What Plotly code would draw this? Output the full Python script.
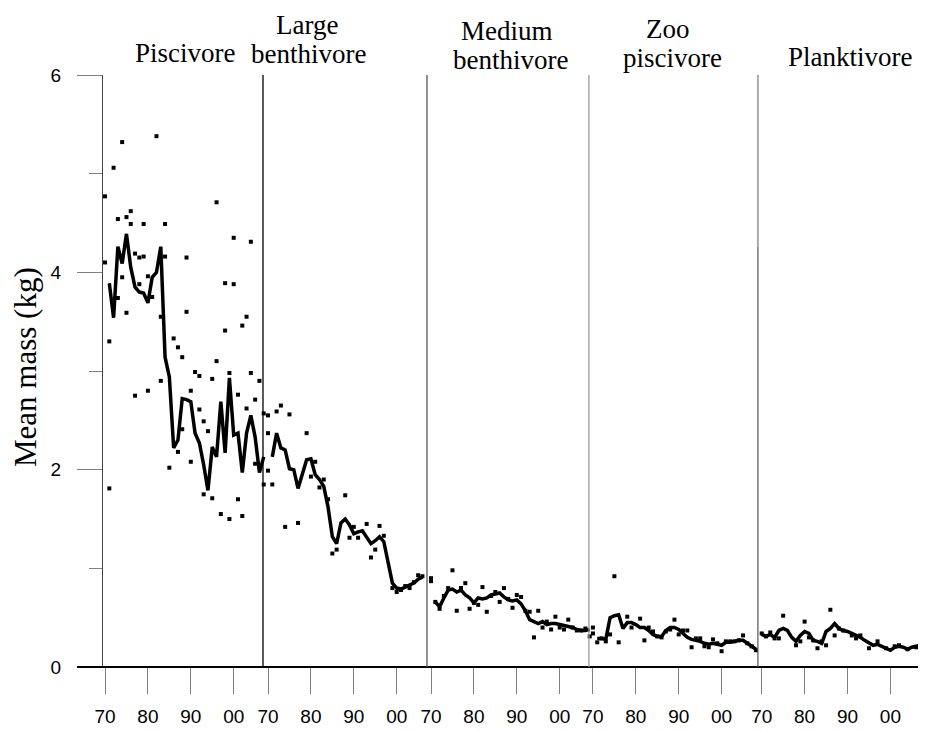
import plotly.graph_objects as go

# ---------------- data ----------------
panel_names = ["Piscivore", "Large benthivore", "Medium benthivore", "Zoo piscivore", "Planktivore"]
tick_years = [1970, 1980, 1990, 2000]
tick_labels = ["70", "80", "90", "00"]

pisc_pt_year = [1970, 1970, 1971, 1971, 1972, 1973, 1973, 1974, 1974, 1975, 1975, 1976, 1976, 1977, 1977,
                1978, 1978, 1979, 1979, 1980, 1980, 1981, 1982, 1983, 1983, 1984, 1984, 1985, 1986, 1987,
                1987, 1988, 1988, 1989, 1989, 1990, 1990, 1991, 1992, 1992, 1993, 1993, 1994, 1995, 1995,
                1996, 1996, 1997, 1998, 1998, 1999, 1999, 2000, 2000, 2001, 2001, 2002, 2002, 2003, 2003,
                2004, 2004, 2005, 2005, 2006, 2007, 2007]
pisc_pt_mass = [4.77, 4.10, 3.30, 1.81, 5.06, 4.54, 3.74, 5.32, 3.95, 4.56, 3.59, 4.62, 4.49, 4.19, 2.75,
                4.15, 3.88, 4.49, 4.16, 3.96, 2.80, 3.75, 5.38, 3.55, 2.90, 4.49, 4.16, 2.02, 3.33, 3.24,
                2.18, 3.14, 2.41, 4.15, 3.60, 2.80, 2.08, 2.99, 2.95, 2.61, 2.49, 1.75, 2.39, 2.92, 1.71,
                4.71, 3.10, 1.55, 3.89, 3.41, 2.98, 1.50, 4.35, 3.88, 2.76, 1.70, 3.46, 1.53, 3.55, 2.62,
                4.31, 2.98, 2.71, 2.06, 2.90, 2.57, 1.85]
pisc_line_year = list(range(1971, 2008))
pisc_line_mass = [3.89, 3.54, 4.26, 4.09, 4.39, 4.05, 3.85, 3.80, 3.79, 3.69, 3.95, 4.00, 4.26, 3.14, 2.94,
                  2.22, 2.30, 2.72, 2.71, 2.69, 2.37, 2.27, 2.05, 1.79, 2.23, 2.13, 2.69, 2.17, 2.93, 2.35,
                  2.37, 1.97, 2.37, 2.55, 2.33, 1.97, 2.13]

lben_pt_year = [1970, 1970, 1970, 1971, 1972, 1973, 1974, 1975, 1977, 1979, 1980, 1981, 1982, 1983, 1984,
                1985, 1986, 1988, 1989, 1990, 1991, 1993, 1994, 1995, 1996, 1997, 1999, 2000, 2001, 2002,
                2003, 2004, 2005, 2006]
lben_pt_mass = [2.55, 2.37, 1.99, 1.85, 2.59, 2.65, 1.42, 2.56, 1.46, 2.37, 1.93, 2.08, 1.82, 1.90, 1.70,
                1.15, 1.19, 1.74, 1.31, 1.42, 1.31, 1.45, 1.11, 1.19, 1.43, 1.33, 0.80, 0.76, 0.78, 0.82,
                0.80, 0.86, 0.93, 0.92]
lben_line_year = list(range(1971, 2007))
lben_line_mass = [2.13, 2.37, 2.22, 2.20, 2.01, 2.00, 1.81, 1.95, 2.10, 2.11, 1.95, 1.90, 1.83, 1.62, 1.32,
                  1.25, 1.46, 1.50, 1.44, 1.35, 1.37, 1.38, 1.32, 1.25, 1.28, 1.32, 1.27, 1.05, 0.85, 0.80,
                  0.79, 0.81, 0.83, 0.85, 0.89, 0.91]

mben_pt_year = [1970, 1970, 1971, 1972, 1973, 1974, 1975, 1976, 1977, 1978, 1979, 1980, 1981, 1982, 1983,
                1984, 1985, 1986, 1987, 1988, 1989, 1990, 1991, 1992, 1993, 1994, 1995, 1996, 1997, 1998,
                1999, 2000, 2001, 2002, 2003, 2004, 2005, 2006, 2007]
mben_pt_mass = [0.90, 0.87, 0.66, 0.59, 0.72, 0.80, 0.98, 0.57, 0.80, 0.85, 0.59, 0.65, 0.63, 0.81, 0.56,
                0.72, 0.76, 0.66, 0.80, 0.69, 0.60, 0.73, 0.71, 0.57, 0.56, 0.30, 0.57, 0.40, 0.46, 0.38,
                0.51, 0.40, 0.38, 0.48, 0.40, 0.37, 0.37, 0.39, 0.31]
mben_line_year = list(range(1971, 2008))
mben_line_mass = [0.66, 0.61, 0.70, 0.78, 0.79, 0.76, 0.78, 0.73, 0.70, 0.65, 0.70, 0.69, 0.70, 0.73, 0.74,
                  0.75, 0.71, 0.68, 0.67, 0.68, 0.64, 0.57, 0.48, 0.46, 0.44, 0.46, 0.43, 0.44, 0.44, 0.43,
                  0.42, 0.41, 0.40, 0.38, 0.37, 0.37, 0.38]

zoo_pt_year = [1970, 1970, 1971, 1972, 1973, 1974, 1975, 1976, 1978, 1979, 1981, 1982, 1983, 1984, 1985,
               1986, 1987, 1988, 1989, 1990, 1991, 1992, 1993, 1994, 1995, 1996, 1997, 1998, 1999, 2000,
               2001, 2002, 2003, 2004, 2005, 2006, 2007, 2008]
zoo_pt_mass = [0.40, 0.34, 0.25, 0.29, 0.26, 0.33, 0.92, 0.25, 0.51, 0.40, 0.49, 0.27, 0.40, 0.36, 0.31,
               0.30, 0.36, 0.38, 0.48, 0.33, 0.37, 0.37, 0.20, 0.29, 0.29, 0.21, 0.20, 0.28, 0.24, 0.16,
               0.26, 0.26, 0.26, 0.27, 0.32, 0.24, 0.21, 0.17]
zoo_line_year = list(range(1971, 2009))
zoo_line_mass = [0.29, 0.29, 0.28, 0.50, 0.52, 0.53, 0.39, 0.45, 0.45, 0.43, 0.40, 0.40, 0.37, 0.33, 0.31,
                 0.31, 0.37, 0.40, 0.40, 0.38, 0.34, 0.30, 0.28, 0.27, 0.26, 0.24, 0.23, 0.24, 0.23, 0.22,
                 0.25, 0.25, 0.26, 0.27, 0.27, 0.24, 0.20, 0.18]

plank_pt_year = [1970, 1971, 1972, 1973, 1974, 1975, 1978, 1979, 1980, 1981, 1982, 1983, 1984, 1985, 1986,
                 1987, 1988, 1989, 1991, 1992, 1993, 1995, 1997, 1999, 2001, 2002, 2004, 2006]
plank_pt_mass = [0.34, 0.31, 0.35, 0.29, 0.29, 0.52, 0.22, 0.26, 0.46, 0.30, 0.27, 0.19, 0.26, 0.22, 0.58,
                 0.32, 0.39, 0.37, 0.32, 0.29, 0.32, 0.19, 0.26, 0.19, 0.21, 0.22, 0.18, 0.20]
plank_line_year = list(range(1970, 2009))
plank_line_mass = [0.33, 0.31, 0.33, 0.30, 0.37, 0.39, 0.37, 0.30, 0.26, 0.32, 0.36, 0.34, 0.27, 0.26, 0.24,
                   0.36, 0.39, 0.44, 0.39, 0.37, 0.36, 0.34, 0.32, 0.30, 0.27, 0.24, 0.22, 0.23, 0.21, 0.19,
                   0.17, 0.20, 0.21, 0.20, 0.18, 0.20, 0.21, 0.22, 0.23]

# ---------------- layout constants ----------------
PAGE_W, PAGE_H = 926, 731
BODY = 8                       # default page margin around the plot div
W, H = PAGE_W - BODY, PAGE_H - BODY
PLOT_L, PLOT_R, PLOT_T, PLOT_B = 103, 926, 75, 667   # plot area in page pixels
PANEL_OFFSET = [0.0, 38.0, 76.0, 113.75, 153.1]      # axis offset of each panel's 1970
DIVIDERS = [36.83, 75.06, 112.82, 152.21]
X_RANGE = [-0.47, 191.4]

def px_x(px):
    return (px - PLOT_L) / (PLOT_R - PLOT_L)

def px_y(py):
    return (PLOT_B - py) / (PLOT_B - PLOT_T)

panels = [
    (pisc_pt_year, pisc_pt_mass, pisc_line_year, pisc_line_mass),
    (lben_pt_year, lben_pt_mass, lben_line_year, lben_line_mass),
    (mben_pt_year, mben_pt_mass, mben_line_year, mben_line_mass),
    (zoo_pt_year, zoo_pt_mass, zoo_line_year, zoo_line_mass),
    (plank_pt_year, plank_pt_mass, plank_line_year, plank_line_mass),
]

fig = go.Figure()
tickvals, ticktext = [], []
for k, (py_, pm, ly, lm) in enumerate(panels):
    off = PANEL_OFFSET[k]
    fig.add_trace(go.Scatter(
        x=[y - 1970 + off for y in py_], y=pm, mode="markers",
        marker=dict(symbol="square", size=4, color="black", line=dict(width=0)),
        showlegend=False, hoverinfo="skip", cliponaxis=False))
    fig.add_trace(go.Scatter(
        x=[y - 1970 + off for y in ly], y=lm, mode="lines",
        line=dict(color="black", width=3.5),
        showlegend=False, hoverinfo="skip"))
    for ty, tl in zip(tick_years, tick_labels):
        tickvals.append(ty - 1970 + off)
        ticktext.append(tl)

shapes = [dict(type="line", xref="paper", yref="paper", x0=px_x(77), x1=1.0, y0=0, y1=0,
               line=dict(color="black", width=2))]
div_colors = ["#000000", "#555555", "#999999"]
for d, c in zip(DIVIDERS[:3], div_colors):
    shapes.append(dict(type="line", xref="x", yref="paper", x0=d, x1=d, y0=0, y1=1,
                       line=dict(color=c, width=1.3)))
shapes.append(dict(type="line", xref="x", yref="paper", x0=DIVIDERS[3], x1=DIVIDERS[3],
                   y0=px_y(247), y1=1, line=dict(color="#aaaaaa", width=2)))
shapes.append(dict(type="line", xref="x", yref="paper", x0=DIVIDERS[3], x1=DIVIDERS[3],
                   y0=0, y1=px_y(247), line=dict(color="#555555", width=1.2)))

serif = "Liberation Serif, Times New Roman, serif"
title_font = dict(family=serif, size=27, color="black")
title_pos = [("Piscivore", 185, 53), ("Large", 307, 25), ("benthivore", 308, 54),
             ("Medium", 507, 31), ("benthivore", 510, 60), ("Zoo", 668, 29),
             ("piscivore", 672, 58), ("Planktivore", 850, 57)]
annotations = [dict(text=t, x=px_x(x), y=px_y(y), xref="paper", yref="paper",
                    xanchor="center", yanchor="middle", showarrow=False, font=title_font)
               for t, x, y in title_pos]
annotations.append(dict(text="Mean mass (kg)", x=px_x(25), y=px_y(367), xref="paper", yref="paper",
                        xanchor="center", yanchor="middle", showarrow=False, textangle=-90,
                        font=dict(family=serif, size=31, color="black")))

sans = "Liberation Sans, Arial, sans-serif"
fig.update_layout(
    width=W, height=H,
    margin=dict(l=PLOT_L - BODY, r=PAGE_W - PLOT_R, t=PLOT_T - BODY, b=PAGE_H - PLOT_B),
    paper_bgcolor="white", plot_bgcolor="white",
    shapes=shapes, annotations=annotations,
    xaxis=dict(range=X_RANGE, tickvals=tickvals, ticktext=ticktext, ticks="outside",
               ticklen=26, tickcolor="#808080", tickwidth=1, showline=False, showgrid=False,
               zeroline=False, tickfont=dict(family=sans, size=19, color="black"),
               ticklabelstandoff=6, fixedrange=True, automargin=False),
    yaxis=dict(range=[0, 6], tickvals=[0, 2, 4, 6], ticks="outside", ticklen=25,
               tickcolor="#808080", tickwidth=1, showline=True, linecolor="#444444", linewidth=1,
               showgrid=False, zeroline=False,
               minor=dict(dtick=1, tick0=0, ticklen=13, tickcolor="#808080", ticks="outside",
                          showgrid=False),
               tickfont=dict(family=sans, size=19, color="black"), ticklabelstandoff=12,
               fixedrange=True, automargin=False),
)

fig.write_html("out.html")
